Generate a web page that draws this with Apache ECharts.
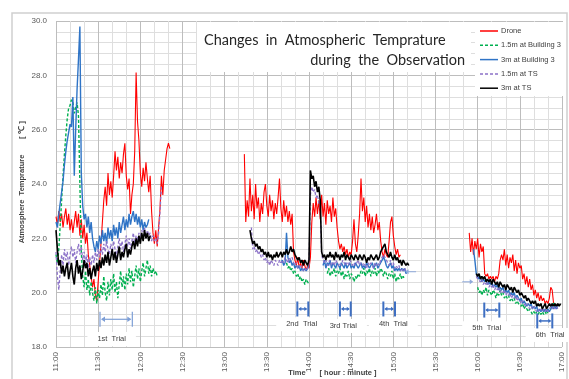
<!DOCTYPE html>
<html><head><meta charset="utf-8">
<script src="https://cdn.jsdelivr.net/npm/echarts@6/dist/echarts.min.js"></script>
<style>html,body{margin:0;padding:0;background:#fff}#c{width:569px;height:379px}</style>
</head><body><div id="c"></div>
<script>
// x values: minutes after 11:00
const xTickLabels = ['11:00','11:30','12:00','12:30','13:00','13:30','14:00','14:30','15:00','15:30','16:00','16:30','17:00'];
const seriesNames = ['Drone','1.5m at Building 3','3m at Building 3','1.5m at TS','3m at TS'];
const seriesColors = ['#FF0000','#00B050','#2F74C6','#8C72C8','#000000'];
const seriesDashed = [false, true, false, true, false];

// ---- Drone ----
const droneStarts = [0, 134, 294];
const drone1 = [22.8,22.5,23.0,22.6,22.9,22.4,22.8,23.1,22.5,22.9,
 22.3,22.7,22.2,22.6,23.0,22.4,22.9,22.1,22.7,22.0,
 22.5,21.8,22.2,21.4,21.0,20.6,20.2,20.5,19.9,19.7,
 20.4,21.1,21.8,22.6,23.4,23.9,23.2,24.4,23.6,24.1,
 23.5,24.3,25.2,24.5,25.0,24.2,24.8,24.4,25.1,25.5,
 24.3,23.8,24.2,22.9,23.6,24.0,25.2,28.1,26.3,25.6,
 24.4,23.9,24.6,24.1,24.8,24.2,23.7,24.3,23.0,22.2,
 21.8,22.3,21.7,22.4,23.1,24.3,23.6,24.5,24.9,25.3,
 25.5,25.3];
const drone2 = [25.1,22.6,23.4,22.8,24.2,23.0,23.6,22.7,24.0,23.1,
 23.5,22.6,23.3,22.9,23.7,24.0,23.2,22.8,23.6,23.0,
 23.4,22.7,23.3,22.9,23.5,24.2,23.1,22.6,23.4,22.8,
 23.2,22.6,23.0,22.5,22.9,21.5,21.2,21.0,21.3,20.9,
 21.1,20.9,21.2,21.0,20.8,21.0,20.9,21.3,22.6,23.3,
 22.8,23.5,22.9,23.4,22.7,23.6,22.8,23.3,22.5,23.4,
 22.9,23.2,22.6,23.5,22.8,23.1,22.4,21.9,21.6,21.8,
 21.5,21.7,21.4,21.6,21.3,21.5,21.4,21.9,22.7,21.8,
 21.5,22.1,22.9,24.2,23.0,23.5,22.6,23.2,22.4,22.9,
 22.3,22.8,22.2,22.5,22.9,22.3,22.6,21.9,21.5,21.3,
 21.6,21.4,21.3,21.9,22.6,22.8,22.1,21.7,21.4,21.6,
 21.3,21.4];
const drone3 = [22.2,21.5,22.0,21.4,21.9,21.6,22.0,21.3,21.8,21.5,
 21.7,20.7,20.6,20.7,20.5,20.6,20.5,20.6,20.4,20.6,
 20.5,20.7,21.2,21.4,21.2,21.6,21.0,21.4,20.9,21.3,
 21.1,21.4,20.8,21.2,20.7,21.1,20.9,21.0,20.5,20.7,
 20.3,20.6,20.2,20.5,20.1,20.3,19.9,20.1,19.8,20.0,
 19.7,19.9,19.7,19.8,19.6,19.7,19.6,19.8,20.2,20.1,
 19.6,19.5];

// ---- 1.5m at Building 3 ----
const b15Starts = [0, 164, 193, 300];
const b15_1 = [21.4,21.1,21.6,22.5,23.4,24.3,25.1,25.8,26.4,26.8,
 26.9,27.1,27.0,26.6,26.8,27.0,26.5,24.0,21.5,20.6,
 20.2,20.8,20.1,20.5,19.9,20.4,20.0,19.7,20.2,19.6,
 20.1,19.8,20.3,19.9,20.6,20.0,19.7,20.4,19.9,20.5,
 20.1,20.7,20.0,20.4,19.8,20.3,20.8,20.2,20.6,20.1,
 20.7,20.3,20.9,20.4,20.8,20.2,20.6,21.0,20.5,20.9,
 20.4,20.8,21.1,20.6,20.9,21.2,20.7,21.0,20.6,20.9,
 20.7,20.8,20.6];
const b15_2 = [21.1,20.9,21.0,20.8,20.9,20.7,20.8,20.6,20.7,20.5,20.6,20.4,20.5,20.3,20.5,20.4,20.3];
const b15_3 = [20.7,20.9,20.6,20.8,20.7,20.9,20.6,20.8,20.7,20.9,
 20.6,20.8,20.5,20.7,20.6,20.8,20.5,20.7,20.6,20.4,
 20.6,20.5,20.7,20.6,20.8,20.7,20.9,20.6,20.8,20.7,
 20.9,20.6,20.8,20.7,20.9,20.6,20.8,20.7,20.9,20.8,
 20.6,20.8,20.7,20.5,20.7,20.6,20.8,20.5,20.7,20.4,
 20.6,20.5,20.7,20.5,20.6,20.5];
const b15_4 = [20.2,20.0,20.1,19.9,20.1,20.0,20.2,19.9,20.1,20.0,
 19.9,20.1,20.0,19.8,20.0,19.9,20.1,19.9,20.0,19.8,
 19.9,19.8,19.9,19.7,19.8,19.7,19.8,19.6,19.7,19.6,
 19.6,19.5,19.6,19.4,19.5,19.4,19.3,19.4,19.3,19.2,
 19.3,19.2,19.3,19.2,19.3,19.2,19.3,19.2,19.3,19.2,
 19.3,19.3,19.4,19.5,19.6,19.6];

// ---- 3m at Building 3 ----
const b3Starts = [0, 160, 190, 297];
const b3_1 = [22.6,22.4,22.9,23.3,23.7,24.1,24.7,25.2,25.6,25.9,
 26.2,26.1,27.2,24.3,26.0,27.5,28.6,29.8,24.4,23.2,
 22.7,22.9,22.4,22.8,22.2,22.6,22.0,21.7,21.5,21.9,
 21.6,22.1,21.8,22.3,21.9,22.2,21.8,22.4,22.0,22.3,
 21.9,22.5,22.1,22.4,22.0,22.6,22.2,22.5,22.8,22.3,
 22.7,22.4,22.9,22.5,22.8,23.0,22.6,22.9,22.5,22.8,
 22.4,22.7,22.3,22.6,22.4,22.5,22.7];
const b3_2 = [21.1,21.2,21.0,21.1,22.2,21.3,21.1,21.2,21.0,21.1,20.9,21.0,20.9,21.0,20.8,20.9,20.8,20.9,20.8,20.9,21.0];
const b3_3 = [21.0,21.2,20.9,21.1,21.0,21.2,20.9,21.1,21.0,20.9,
 21.1,21.0,20.9,21.1,21.0,20.9,21.1,20.9,21.0,21.1,
 20.9,21.0,20.9,21.1,21.0,20.9,21.0,21.1,20.9,21.0,
 20.9,21.1,21.0,20.9,21.0,21.1,20.9,21.0,21.1,20.9,
 21.0,21.1,21.2,21.3,21.2,21.0,20.9,21.0,21.1,20.9,
 21.0,20.8,20.9,20.8,20.9,20.8,20.9,20.8,20.9,20.7,
 20.8];
const b3_4 = [21.6,21.2,20.7,20.6,20.5,20.6,20.4,20.5,20.4,20.5,
 20.3,20.4,20.3,20.4,20.2,20.3,20.2,20.3,20.1,20.2,
 20.1,20.2,20.0,20.1,20.0,20.1,19.9,20.0,19.9,20.0,
 19.8,19.9,19.8,19.7,19.8,19.6,19.7,19.6,19.5,19.6,
 19.5,19.6,19.4,19.5,19.4,19.5,19.3,19.4,19.3,19.4,
 19.3,19.4,19.3,19.4,19.3,19.4,19.5,19.4,19.5,19.4,19.5];

// ---- 1.5m at TS ----
const t15Starts = [0, 139, 299];
const t15_1 = [21.5,20.6,20.1,20.8,21.4,21.0,21.6,21.2,21.5,21.0,
 21.4,21.7,21.3,21.6,21.1,21.5,21.8,21.4,21.7,21.2,
 21.5,21.1,21.4,20.9,21.3,21.0,21.4,21.1,21.5,21.2,
 21.6,21.3,21.7,21.4,21.8,21.5,21.9,21.6,21.4,21.8,
 21.5,21.9,21.6,21.3,21.7,22.0,21.6,21.9,21.5,21.8,
 22.1,21.7,22.0,21.6,21.9,22.2,21.8,22.1,21.9,22.2,
 22.0,22.3,22.1,22.4,22.0,22.3,22.1,22.2,21.9,22.1,
 21.9,22.0,21.8,22.2,23.0,23.9];
const t15_2 = [22.4,21.6,21.7,21.5,21.6,21.4,21.5,21.3,21.4,21.2,
 21.3,21.1,21.2,21.0,21.2,21.1,21.0,21.2,21.1,21.0,
 21.2,21.1,21.2,21.1,21.3,21.2,21.1,21.3,21.2,21.3,
 21.1,21.0,21.1,20.9,21.0,20.9,21.0,20.8,20.9,20.8,
 20.9,21.0,23.6,23.9,23.7,23.8,23.5,23.6,23.3,23.2,
 21.4,21.2,21.1,21.2,21.0,21.1,21.2,21.0,21.1,21.0,
 21.2,21.1,21.0,21.1,21.0,21.2,21.1,21.0,21.1,21.0,
 21.2,21.1,21.0,21.1,21.0,21.1,21.2,21.0,21.1,21.0,
 21.1,21.0,20.9,21.1,21.0,21.1,21.0,20.9,21.1,21.0,
 21.1,21.0,21.2,21.3,21.4,21.3,21.2,21.1,21.0,21.2,
 21.0,21.1,20.9,21.0,20.9,21.0,20.8,20.9,20.8,20.9,
 20.8];
const t15_3 = [20.6,20.5,20.5,20.4,20.5,20.3,20.4,20.3,20.4,20.2,
 20.3,20.2,20.3,20.1,20.2,20.1,20.2,20.0,20.1,20.0,
 20.1,19.9,20.0,19.9,20.0,19.8,19.9,19.8,19.9,19.7,
 19.8,19.7,19.6,19.7,19.6,19.5,19.6,19.5,19.4,19.5,
 19.4,19.5,19.4,19.3,19.4,19.3,19.4,19.3,19.4,19.3,
 19.4,19.3,19.4,19.5,19.4,19.5,19.4,19.5,19.4];

// ---- 3m at TS ----
const t3Starts = [0, 138, 299];
const t3_1 = [22.3,21.6,21.0,21.2,20.7,21.0,20.6,20.9,21.1,20.5,
 20.8,21.1,20.6,20.3,20.9,21.2,20.7,21.0,20.5,20.8,
 21.2,20.9,21.1,20.6,20.9,20.5,20.8,21.0,20.6,21.1,
 20.8,21.2,20.9,21.3,21.0,21.4,21.1,21.5,21.0,21.3,
 21.6,21.2,21.5,21.1,21.4,21.7,21.2,21.5,21.3,21.6,
 21.8,21.3,21.6,21.4,21.7,21.9,21.6,22.0,21.7,22.1,
 21.8,22.2,21.9,22.3,22.0,22.2,21.9,22.1];
const t3_2 = [22.3,22.0,21.8,21.9,21.7,21.8,21.6,21.7,21.5,21.6,
 21.4,21.5,21.3,21.5,21.3,21.4,21.2,21.4,21.3,21.5,
 21.3,21.4,21.5,21.3,21.5,21.4,21.6,21.4,21.5,21.7,
 21.5,21.6,21.4,21.3,21.2,21.3,21.1,21.2,21.0,21.2,
 21.1,21.0,21.2,24.5,24.2,24.3,23.9,24.1,23.7,23.9,
 23.4,21.5,21.3,21.4,21.2,21.4,21.3,21.5,21.3,21.4,
 21.2,21.5,21.3,21.4,21.2,21.4,21.3,21.5,21.2,21.4,
 21.3,21.2,21.4,21.3,21.2,21.4,21.3,21.2,21.4,21.3,
 21.2,21.4,21.3,21.1,21.3,21.2,21.4,21.3,21.2,21.3,
 21.4,21.2,21.3,21.5,21.6,21.7,21.8,21.5,21.4,21.3,
 21.5,21.3,21.2,21.4,21.2,21.3,21.1,21.2,21.0,21.2,
 21.1,21.0,21.1,21.0];
const t3_3 = [20.7,20.6,20.7,20.5,20.6,20.5,20.6,20.4,20.5,20.4,
 20.5,20.3,20.5,20.4,20.3,20.4,20.2,20.4,20.3,20.2,
 20.3,20.1,20.3,20.2,20.1,20.2,20.0,20.2,20.1,20.0,
 20.1,19.9,20.0,19.9,19.8,19.9,19.7,19.8,19.7,19.6,
 19.7,19.6,19.7,19.5,19.6,19.5,19.6,19.4,19.5,19.6,
 19.4,19.5,19.6,19.5,19.6,19.5,19.6,19.5,19.6,19.5,
 19.6];

// ---- annotations (data coordinates: minutes after 11:00, temperature) ----
const trialNames = ['1st  Trial','2nd  Trial','3rd Trial','4th  Trial','5th  Trial','6th  Trial'];
const trialFrom = [31.3, 171.7, 202.0, 232.9, 304.7, 342.4];
const trialTo = [54.3, 179.5, 209.7, 241.2, 315.4, 353.1];
const trialLevel = [19.02, 19.40, 19.40, 19.40, 19.36, 18.96];
const trialLabelX = [39.6, 174.8, 204.4, 240.0, 306.4, 351.5];
const trialLabelY = [18.29, 18.84, 18.77, 18.84, 18.69, 18.44];

function build(starts, segs) {
  const out = [];
  segs.forEach((vals, k) => {
    if (k > 0) out.push([starts[k] - 0.5, '-']);
    vals.forEach((v, i) => out.push([starts[k] + i, v]));
  });
  return out;
}

const chart = echarts.init(document.getElementById('c'), null, {renderer: 'canvas'});
const FONT = 'Liberation Sans';
const widths = [1.1, 1.4, 1.4, 1.3, 1.6];

function lineSeries(i, data) {
  const color = seriesColors[i];
  return {
    name: seriesNames[i], type: 'line', data, symbol: 'none', showSymbol: false, connectNulls: false,
    lineStyle: {color, width: widths[i], type: seriesDashed[i] ? [3, 2] : 'solid'},
    itemStyle: {color}, emphasis: {disabled: true}, animation: false
  };
}

chart.setOption({
  animation: false,
  backgroundColor: '#fff',
  grid: {left: 56, right: 7, top: 21, bottom: 32, containLabel: false},
  xAxis: {
    type: 'value', min: 0, max: 360, interval: 30,
    axisLine: {show: false}, axisTick: {show: false},
    splitLine: {show: true, lineStyle: {color: '#bdbdbd', width: 1}},
    minorTick: {show: false, splitNumber: 3},
    minorSplitLine: {show: true, lineStyle: {color: '#dedede', width: 1}},
    axisLabel: {rotate: 90, fontSize: 8, color: '#595959', margin: 5, fontFamily: FONT,
      formatter: v => xTickLabels[Math.round(v / 30)]}
  },
  yAxis: {
    type: 'value', min: 18, max: 30, interval: 2,
    axisLine: {show: false}, axisTick: {show: false},
    splitLine: {show: true, lineStyle: {color: '#bdbdbd', width: 1}},
    minorTick: {show: false, splitNumber: 5},
    minorSplitLine: {show: true, lineStyle: {color: '#dedede', width: 1}},
    axisLabel: {fontSize: 8, color: '#595959', margin: 9, fontFamily: FONT,
      formatter: v => v.toFixed(1)}
  },
  series: [
    lineSeries(0, build(droneStarts, [drone1, drone2, drone3])),
    lineSeries(1, build(b15Starts, [b15_1, b15_2, b15_3, b15_4])),
    lineSeries(2, build(b3Starts, [b3_1, b3_2, b3_3, b3_4])),
    lineSeries(3, build(t15Starts, [t15_1, t15_2, t15_3])),
    lineSeries(4, build(t3Starts, [t3_1, t3_2, t3_3]))
  ]
});

// ---- decorations positioned through the chart's own scales ----
const px = (t, T) => chart.convertToPixel({gridIndex: 0}, [t, T]);
const g = [];
function arrowHead(x, y, dir, color, s) {
  return {type: 'polygon', silent: true, z: 100,
    shape: {points: [[x, y], [x - dir * s, y - s * 0.7], [x - dir * s, y + s * 0.7]]},
    style: {fill: color}};
}
trialNames.forEach((name, i) => {
  const a = px(trialFrom[i], trialLevel[i]);
  const b = px(trialTo[i], trialLevel[i]);
  const first = i === 0;
  const color = first ? '#7D9ED6' : '#3E6FC2';
  const lw = first ? 1.2 : 2;
  const half = 7.5;
  g.push({type: 'line', silent: true, z: 100, shape: {x1: a[0] + 2, y1: a[1], x2: b[0] - 2, y2: b[1]}, style: {stroke: color, lineWidth: first ? 1.2 : 1.5}});
  g.push({type: 'line', silent: true, z: 100, shape: {x1: a[0], y1: a[1] - half, x2: a[0], y2: a[1] + half}, style: {stroke: color, lineWidth: lw}});
  g.push({type: 'line', silent: true, z: 100, shape: {x1: b[0], y1: b[1] - half, x2: b[0], y2: b[1] + half}, style: {stroke: color, lineWidth: lw}});
  g.push(arrowHead(a[0] + 1, a[1], -1, color, first ? 4 : 3));
  g.push(arrowHead(b[0] - 1, b[1], 1, color, first ? 4 : 3));
  const l = px(trialLabelX[i], trialLabelY[i]);
  g.push({type: 'text', silent: true, z: 99, x: l[0], y: l[1],
    style: {text: name, fontSize: 7.5, fill: '#404040', fontFamily: FONT, align: 'center', verticalAlign: 'middle',
      backgroundColor: '#fff', padding: [3, 10]}});
});
// small side arrows
const sa = px(251.9, 20.77);
g.push({type: 'line', silent: true, z: 100, shape: {x1: sa[0] + 6, y1: sa[1], x2: sa[0] - 3, y2: sa[1]}, style: {stroke: '#8EA9DB', lineWidth: 1}});
g.push(arrowHead(sa[0] - 5, sa[1], -1, '#8EA9DB', 3.5));
const sb = px(293.3, 20.40);
g.push({type: 'line', silent: true, z: 100, shape: {x1: sb[0] - 6, y1: sb[1], x2: sb[0] + 3, y2: sb[1]}, style: {stroke: '#8EA9DB', lineWidth: 1}});
g.push(arrowHead(sb[0] + 5, sb[1], 1, '#8EA9DB', 3.5));

// title box
g.push({type: 'rect', silent: true, z: 90, shape: {x: 197, y: 22, width: 274, height: 50}, style: {fill: '#fff'}});
g.push({type: 'text', silent: true, z: 91, x: 204, y: 40, style: {text: 'Changes  in  Atmospheric  Temprature', fontSize: 14.5, fontFamily: 'Lato', fill: '#262626', verticalAlign: 'middle'}});
g.push({type: 'text', silent: true, z: 91, x: 465, y: 60, style: {text: 'during  the  Observation', fontSize: 14.5, fontFamily: 'Lato', fill: '#262626', align: 'right', verticalAlign: 'middle'}});
// legend box (built from the series names/colours)
g.push({type: 'rect', silent: true, z: 90, shape: {x: 475, y: 22, width: 88, height: 74}, style: {fill: '#fff'}});
seriesNames.forEach((name, i) => {
  const y = 31 + i * 14.3;
  g.push({type: 'line', silent: true, z: 91, shape: {x1: 480, y1: y, x2: 498, y2: y},
    style: {stroke: seriesColors[i], lineWidth: 1.5, lineDash: seriesDashed[i] ? [3, 2] : null}});
  g.push({type: 'text', silent: true, z: 91, x: 501, y: y,
    style: {text: name, fontSize: 7.5, fontFamily: FONT, fill: '#404040', verticalAlign: 'middle'}});
});
// axis titles
g.push({type: 'text', silent: true, z: 91, x: 22, y: 199, rotation: Math.PI / 2, style: {text: 'Atmosphere  Temprature', fontSize: 7.5, fontWeight: 'bold', fontFamily: FONT, fill: '#404040', align: 'center', verticalAlign: 'middle'}});
g.push({type: 'text', silent: true, z: 91, x: 22, y: 130, rotation: Math.PI / 2, style: {text: '[ ℃ ]', fontSize: 8, fontWeight: 'bold', fontFamily: FONT, fill: '#404040', align: 'center', verticalAlign: 'middle'}});
g.push({type: 'text', silent: true, z: 91, x: 297, y: 373, style: {text: 'Time', fontSize: 7.5, fontWeight: 'bold', fontFamily: FONT, fill: '#404040', align: 'center', verticalAlign: 'middle'}});
g.push({type: 'text', silent: true, z: 91, x: 348, y: 373, style: {text: '[ hour : minute ]', fontSize: 7.5, fontWeight: 'bold', fontFamily: FONT, fill: '#404040', align: 'center', verticalAlign: 'middle'}});
// outer frame
g.push({type: 'rect', silent: true, z: 1, shape: {x: 12, y: 13, width: 555, height: 380}, style: {fill: 'none', stroke: '#d0d0d0', lineWidth: 1.5}});

chart.setOption({graphic: g});
</script>
</body></html>
